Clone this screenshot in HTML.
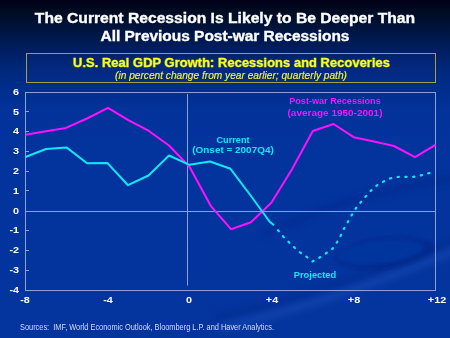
<!DOCTYPE html>
<html><head><meta charset="utf-8">
<style>
html,body{margin:0;padding:0;}
body{width:450px;height:338px;overflow:hidden;position:relative;
 background:linear-gradient(to bottom,#020018 0px,#000c22 12px,#001440 30px,#001e60 50px,#00287c 70px,#002e8e 90px,#02329a 110px,#03349e 200px,#04359f 338px);
 font-family:"Liberation Sans",sans-serif;}
.t{position:absolute;white-space:nowrap;line-height:1;text-align:center;}
.ti{left:0;width:450px;color:#fff;font-weight:bold;font-size:14.5px;-webkit-text-stroke:0.35px #fff;}
#box{position:absolute;left:26px;top:53px;width:408px;height:28px;border:1px solid #a0a044;background:rgba(20,50,160,0.15);}
#sub{left:0;width:450px;color:#ffff14;font-weight:bold;font-size:13px;-webkit-text-stroke:0.3px #ffff14;}
#ital{left:0;width:450px;color:#f4f43a;font-style:italic;font-size:10px;-webkit-text-stroke:0.15px #f4f43a;}
.yl{color:#fff;font-weight:bold;font-size:9px;text-align:right;width:20px;left:-0.8px;transform-origin:100% 50%;transform:scaleX(1.2);}
.xl{color:#fff;font-weight:bold;font-size:9px;width:30px;transform:scaleX(1.2);}
.lab{font-weight:bold;font-size:8.5px;}
#src{left:19.5px;color:#d4daf2;font-size:8.8px;text-align:left;transform-origin:0 0;transform:scaleX(0.84);}
</style></head>
<body>
<div class="t ti" style="top:11px;left:0px;transform:scaleX(1.08)">The Current Recession Is Likely to Be Deeper Than</div>
<div class="t ti" style="top:29px;left:0.4px;transform:scaleX(1.065)">All Previous Post-war Recessions</div>
<svg width="450" height="338" style="position:absolute;left:0;top:0">
 <defs>
  <filter id="b3" x="-20%" y="-50%" width="140%" height="200%"><feGaussianBlur stdDeviation="3"/></filter>
  <filter id="b2" x="-20%" y="-50%" width="140%" height="200%"><feGaussianBlur stdDeviation="1.8"/></filter>
 </defs>
 <path d="M 220,328 Q 340,300 460,248" fill="none" stroke="#3a6ad0" stroke-width="9" opacity="0.22" filter="url(#b3)"/>
 <path d="M 215,318 Q 340,288 460,238" fill="none" stroke="#001a70" stroke-width="6" opacity="0.25" filter="url(#b3)"/>
 <g filter="url(#b2)"><ellipse cx="384" cy="253" rx="50" ry="16" transform="rotate(-6 384 253)" fill="#001c78" opacity="0.32"/><ellipse cx="380" cy="252" rx="43" ry="11" transform="rotate(-6 380 252)" fill="#03349e"/></g>
 <path d="M 262,236 Q 350,192 460,178" fill="none" stroke="#001c78" stroke-width="9" opacity="0.22" filter="url(#b3)"/>
</svg>
<div id="box"></div>
<div class="t" id="sub" style="top:55.5px;left:6.3px">U.S. Real GDP Growth: Recessions and Recoveries</div>
<div class="t" id="ital" style="top:71.2px;left:6.35px;transform:scaleX(1.015)">(in percent change from year earlier; quarterly path)</div>

<svg width="450" height="338" style="position:absolute;left:0;top:0">
 <g fill="none" stroke="#8aa2d6" stroke-width="1">
  <rect x="25.5" y="92.5" width="410" height="198"/>
  <line x1="25.5" y1="211.5" x2="435.5" y2="211.5"/>
  <line x1="187.5" y1="94" x2="187.5" y2="285.5"/>
  <line x1="25.5" y1="111.5" x2="29" y2="111.5"/><line x1="25.5" y1="131.5" x2="29" y2="131.5"/><line x1="25.5" y1="151.5" x2="29" y2="151.5"/><line x1="25.5" y1="171.5" x2="29" y2="171.5"/><line x1="25.5" y1="190.5" x2="29" y2="190.5"/><line x1="25.5" y1="230.5" x2="29" y2="230.5"/><line x1="25.5" y1="250.5" x2="29" y2="250.5"/><line x1="25.5" y1="270.5" x2="29" y2="270.5"/>
 </g>
 <polyline fill="none" stroke="#ff10ff" stroke-width="2" stroke-linejoin="round"
  points="25.5,134.8 46,131.3 66,127.9 87,118.5 108,107.8 128.3,120.2 148.5,130.7 169,145.5 189.5,166.8 210.7,205.8 231,229.2 251,222.3 271.5,202.5 292,169.3 312.8,131 333.5,124 353.7,137.2 374,141.4 394,146 415,157.2 435.5,144.8"/>
 <polyline fill="none" stroke="#10e8f8" stroke-width="2" stroke-linejoin="round"
  points="25.5,157 46,149 66.5,147.4 87,163.2 107.5,163.1 128,185.2 148.5,175.5 169,155.5 189.5,164.8 210,161.5 230.5,168.8 251,196 269.5,221.5 274,225.2"/>
 <polyline fill="none" stroke="#10e8f8" stroke-width="2.2" stroke-linecap="round" stroke-dasharray="1.3 6.467" stroke-dashoffset="-6.446" points="274,225.2 278.1,230.4 283.4,236.7 289.3,242.6 294.8,247.8 300.7,252.9 307.4,257.4 312.5,261.4 319.2,257.8 325.9,253.4 332.6,248.6 336.9,242.3 340.8,235.5 344,228.6 347.9,221.8 352,214.6 355.8,208.4 360.6,202.4 365.6,196.6 371,190.6 376.6,185.6 383.7,181.4 390.9,178.2 398.7,176.8 413.8,176.8 421.7,175.2 431,172.6"/>
</svg>

<div class="t yl" style="top:87.7px">6</div>
<div class="t yl" style="top:107.5px">5</div>
<div class="t yl" style="top:127.3px">4</div>
<div class="t yl" style="top:147.1px">3</div>
<div class="t yl" style="top:166.9px">2</div>
<div class="t yl" style="top:186.7px">1</div>
<div class="t yl" style="top:206.5px">0</div>
<div class="t yl" style="top:226.3px">-1</div>
<div class="t yl" style="top:246.1px">-2</div>
<div class="t yl" style="top:265.9px">-3</div>
<div class="t yl" style="top:285.7px">-4</div>

<div class="t xl" style="top:296px;left:10.3px">-8</div>
<div class="t xl" style="top:296px;left:93.0px">-4</div>
<div class="t xl" style="top:296px;left:174.2px">0</div>
<div class="t xl" style="top:296px;left:257.2px">+4</div>
<div class="t xl" style="top:296px;left:339.2px">+8</div>
<div class="t xl" style="top:296px;left:421.7px">+12</div>

<div class="t lab" style="color:#10e8f8;left:193.3px;width:80px;top:135.9px;transform:scaleX(1.08)">Current</div>
<div class="t lab" style="color:#10e8f8;left:193.2px;width:80px;top:145.9px;transform:scaleX(1.17)">(Onset = 2007Q4)</div>
<div class="t lab" style="color:#ff10ff;left:284.75px;width:100px;top:97.3px;transform:scaleX(1.07)">Post-war Recessions</div>
<div class="t lab" style="color:#ff10ff;left:284.5px;width:100px;top:109.1px;transform:scaleX(1.175)">(average 1950-2001)</div>
<div class="t lab" style="color:#10e8f8;left:264.9px;width:100px;top:270.8px;transform:scaleX(1.095)">Projected</div>

<div class="t" id="src" style="top:322.5px">Sources:&nbsp; IMF, World Economic Outlook, Bloomberg L.P. and Haver Analytics.</div>
</body></html>
